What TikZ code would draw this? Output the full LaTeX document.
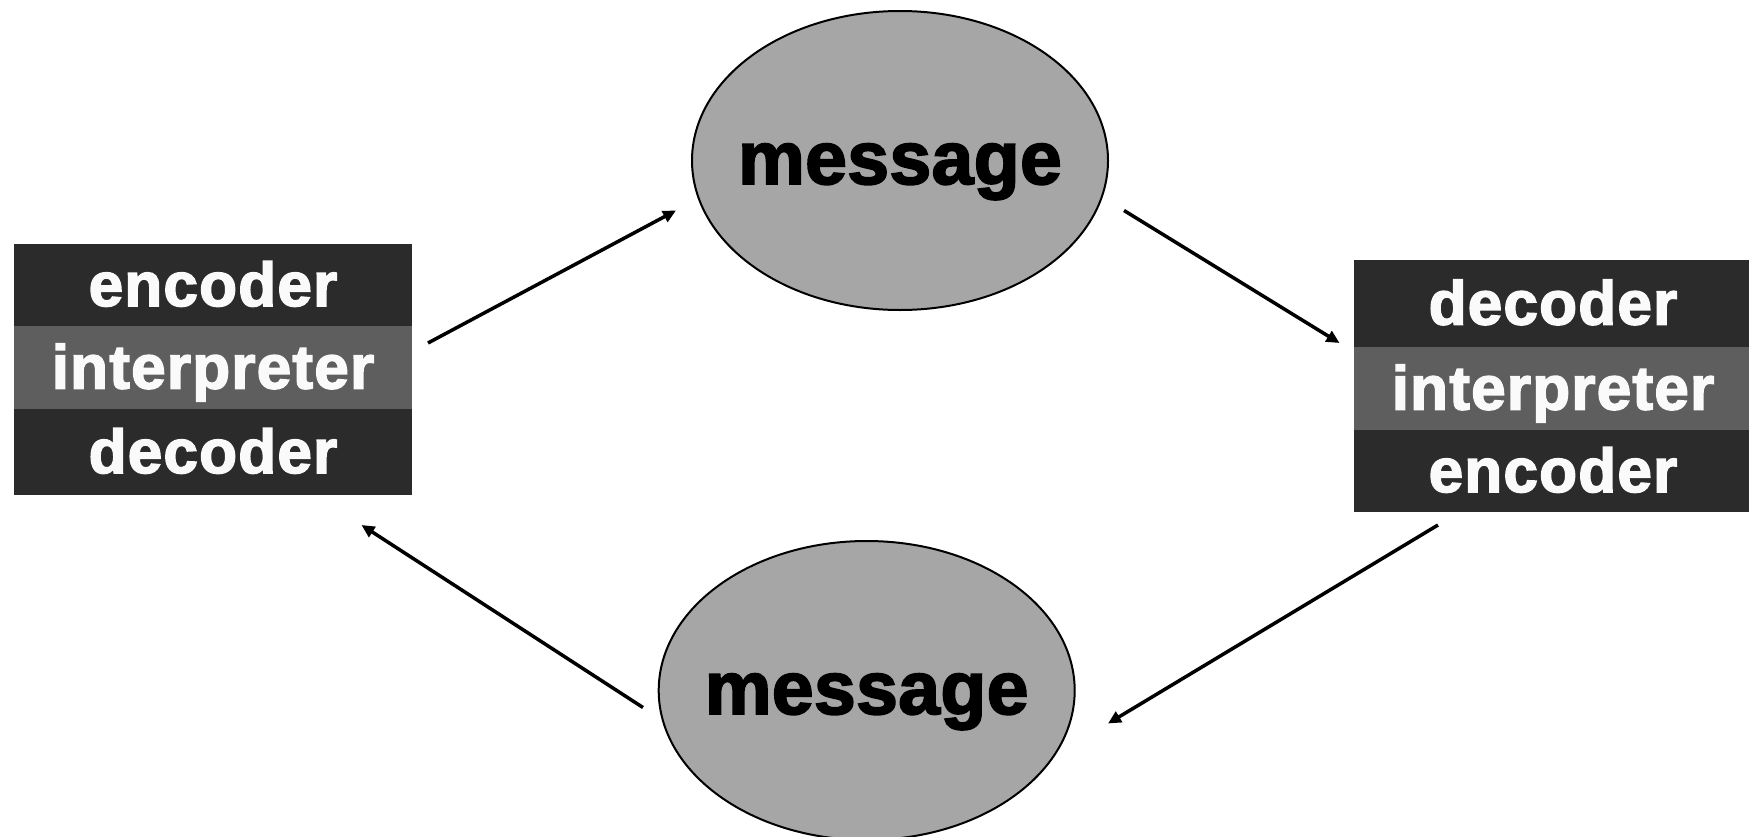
\documentclass[tikz,border=0pt]{standalone}
\usepackage{fontspec}
\setmainfont{Liberation Sans}
\newfontfamily\heavy[BoldFeatures={FakeBold=2.5,LetterSpace=2}]{Liberation Sans}
\newfontfamily\heavymsg[BoldFeatures={FakeBold=2.5,LetterSpace=0.6}]{Liberation Sans}
\usetikzlibrary{arrows.meta,shapes.geometric}
\definecolor{rowdark}{HTML}{2B2B2B}
\definecolor{rowmid}{HTML}{5E5E5E}
\definecolor{msgfill}{HTML}{A6A6A6}
\definecolor{rowtext}{HTML}{FAFAFA}
\tikzset{
  rowbox/.style={rectangle, inner sep=0pt, minimum width=398pt, text=rowtext,
    font=\fontsize{62}{62}\selectfont\heavy\bfseries, text height=42pt, text depth=0pt},
  darkrow/.style={rowbox, fill=rowdark},
  midrow/.style={rowbox, fill=rowmid},
  msg/.style={ellipse, draw=black, line width=2pt, fill=msgfill, inner sep=0pt,
    minimum width=416pt, minimum height=299pt},
  msgtext/.style={font=\fontsize{75}{75}\selectfont\heavymsg\bfseries, inner sep=0pt,
    text height=47pt, text depth=0pt},
  flow/.style={line width=3.5pt, -{Triangle[length=13pt,width=12pt]}}
}
\begin{document}
\begin{tikzpicture}[x=1pt,y=-1pt]
\useasboundingbox (0,0) rectangle (1749,836);
% left stack
\node[darkrow, minimum height=82pt] (l1) at (213,285) {encoder};
\node[midrow, minimum height=83pt] (l2) at (213,367.5) {interpreter};
\node[darkrow, minimum height=86pt] (l3) at (213,452) {decoder};
% right stack
\node[darkrow, minimum height=87pt] (r1) at (1553,303.5) {decoder};
\node[midrow, minimum height=83pt] (r2) at (1553,388.5) {interpreter};
\node[darkrow, minimum height=82pt] (r3) at (1553,471) {encoder};
% messages
\node[msg, label={[msgtext]center:message}] (mtop) at (900,160.5) {};
\node[msg, label={[msgtext]center:message}] (mbot) at (866.7,690.5) {};
% connector ends
\coordinate (a1s) at (428,343);
\coordinate (a1e) at (676,210.5);
\coordinate (a2s) at (1124,210.5);
\coordinate (a2e) at (1339.5,343);
\coordinate (a3s) at (1438,525);
\coordinate (a3e) at (1108,723.5);
\coordinate (a4s) at (643,707.5);
\coordinate (a4e) at (361.5,525);
\draw[flow] (a1s) -- (a1e);
\draw[flow] (a2s) -- (a2e);
\draw[flow] (a3s) -- (a3e);
\draw[flow] (a4s) -- (a4e);
\end{tikzpicture}
\end{document}
